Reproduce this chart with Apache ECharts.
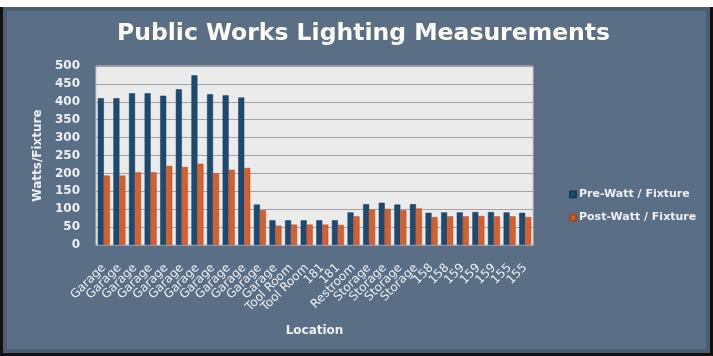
<!DOCTYPE html>
<html>
<head>
<meta charset="utf-8">
<script src="https://cdn.jsdelivr.net/npm/echarts@6/dist/echarts.min.js"></script>
<style>
  html, body { margin: 0; padding: 0; background: #ffffff; }
  #frame {
    position: absolute; left: 0; top: 7px; width: 713px; height: 349px;
    background: #111111;
  }
  #panel {
    position: absolute; left: 3px; top: 0; width: 707px; height: 346px;
    background: #5a6e85; box-sizing: border-box;
    border: 4px solid #4b5d70;
  }
  #chart { position: absolute; left: 0; top: 0; width: 713px; height: 356px; }
</style>
</head>
<body>
<div id="frame"><div id="panel"></div></div>
<div id="chart"></div>
<script>
// Locations measured, one entry per fixture group
const locations = [
  'Garage', 'Garage', 'Garage', 'Garage', 'Garage', 'Garage', 'Garage', 'Garage', 'Garage', 'Garage',
  'Garage', 'Garage', 'Tool Room', 'Tool Room', '181', '181', 'Restroom',
  'Storage', 'Storage', 'Storage', 'Storage',
  '158', '158', '159', '159', '159', '155', '155'
];

// Watts per fixture before the retrofit
const preWatt = [
  410, 410, 424, 424, 417, 435, 474, 421, 418, 412,
  113, 69, 69, 69, 69, 69, 91,
  114, 118, 113, 114,
  90, 91, 91, 92, 92, 91, 90
];

// Watts per fixture after the retrofit
const postWatt = [
  194, 194, 203, 203, 221, 218, 227, 200, 210, 215,
  97, 54, 57, 57, 57, 56, 80,
  99, 101, 97, 102,
  78, 80, 80, 81, 80, 80, 78
];

const yTicks = { min: 0, max: 500, interval: 50 };

const FONT = 'DejaVu Sans';
const TEXT = '#eef0f3';

const chart = echarts.init(document.getElementById('chart'), null, { renderer: 'canvas' });
chart.setOption({
  backgroundColor: 'transparent',
  animation: false,
  title: {
    text: 'Public Works Lighting Measurements',
    left: 112,
    top: 17,
    textStyle: { color: '#ffffff', fontFamily: FONT, fontWeight: 'bold', fontSize: 23.5 }
  },
  legend: {
    orient: 'vertical',
    left: 564,
    top: 184,
    itemWidth: 6,
    itemHeight: 6,
    itemGap: 12,
    icon: 'rect',
    textStyle: { color: TEXT, fontFamily: FONT, fontWeight: 'bold', fontSize: 11, padding: [0, 0, 0, -2] },
    data: ['Pre-Watt / Fixture', 'Post-Watt / Fixture']
  },
  grid: {
    left: 96, right: 180, top: 66, bottom: 111,
    show: true,
    backgroundColor: '#ebebeb',
    borderColor: '#c9c9c9',
    borderWidth: 1
  },
  xAxis: {
    type: 'category',
    data: locations,
    name: 'Location',
    nameLocation: 'middle',
    nameGap: 80,
    nameTextStyle: { color: TEXT, fontFamily: FONT, fontWeight: 'bold', fontSize: 12 },
    axisLine: { show: true, lineStyle: { color: '#9aa4ae', width: 1 } },
    axisTick: { show: false },
    axisLabel: {
      rotate: 45,
      interval: 0,
      margin: 21,
      color: TEXT,
      fontFamily: FONT,
      fontSize: 12
    }
  },
  yAxis: {
    type: 'value',
    min: yTicks.min,
    max: yTicks.max,
    interval: yTicks.interval,
    name: 'Watts/Fixture',
    nameLocation: 'middle',
    nameGap: 42,
    nameTextStyle: { color: TEXT, fontFamily: FONT, fontWeight: 'bold', fontSize: 12 },
    axisLine: { show: false },
    axisTick: { show: false },
    axisLabel: { color: TEXT, fontFamily: FONT, fontWeight: 'bold', fontSize: 12, margin: 16 },
    splitLine: { lineStyle: { color: '#a3a3a3', width: 1.2 } }
  },
  series: [
    {
      name: 'Pre-Watt / Fixture',
      type: 'bar',
      data: preWatt,
      barWidth: 6,
      barGap: '0%',
      itemStyle: { color: '#1d4a70', borderColor: '#163a59', borderWidth: 0.5 }
    },
    {
      name: 'Post-Watt / Fixture',
      type: 'bar',
      data: postWatt,
      barWidth: 6,
      itemStyle: { color: '#d65f2c', borderColor: '#a9461f', borderWidth: 0.5 }
    }
  ]
});
</script>
</body>
</html>
